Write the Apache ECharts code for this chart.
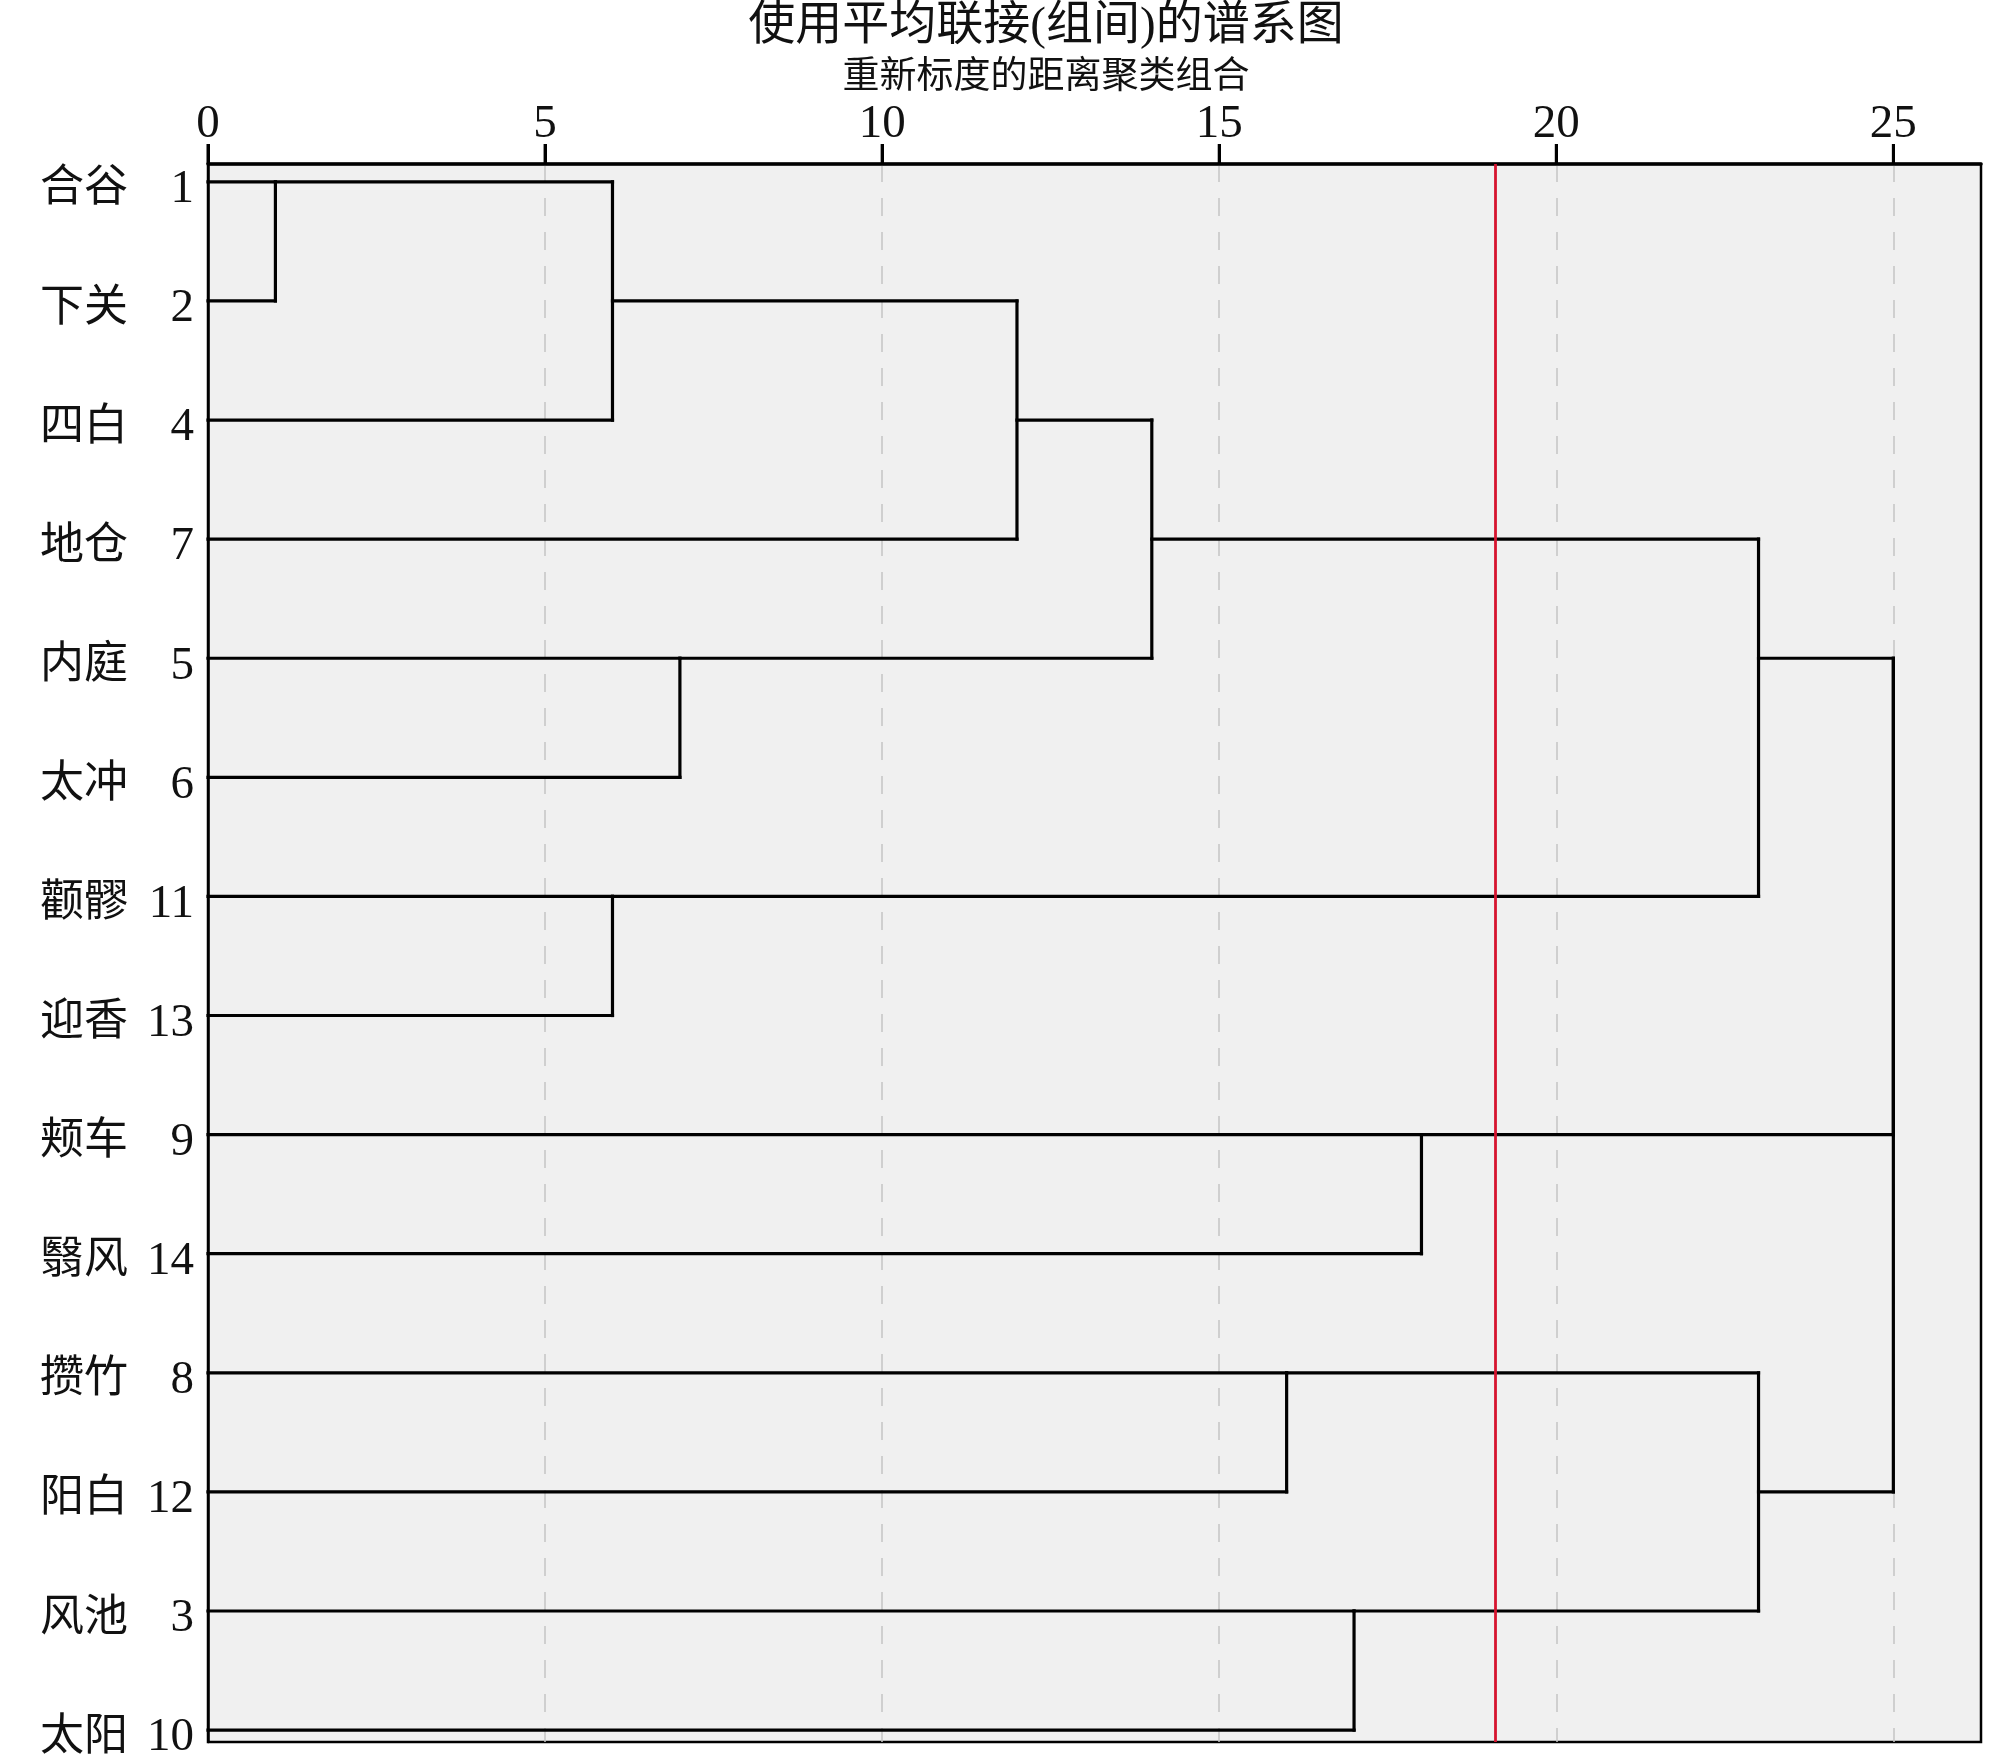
<!DOCTYPE html>
<html>
<head>
<meta charset="utf-8">
<script src="https://cdn.jsdelivr.net/npm/echarts@6/dist/echarts.min.js"></script>
<style>
  html, body { margin: 0; padding: 0; background: #fff; }
  #chart { width: 2000px; height: 1762px; }
</style>
</head>
<body>
<div id="chart"></div>
<script>
// 行标签（自上而下）
var names = ['合谷', '下关', '四白', '地仓', '内庭', '太冲', '颧髎', '迎香', '颊车', '翳风', '攒竹', '阳白', '风池', '太阳']
var caseNo = [1, 2, 4, 7, 5, 6, 11, 13, 9, 14, 8, 12, 3, 10]
var xTicks = [0, 5, 10, 15, 20, 25]
var cutLine = 19.1

// 合并步骤: [子节点A, 子节点B, 距离, 输出行]
// 子节点: 'L0'..'L13' 为叶子, 'M0'.. 为之前的合并
var merges = [
  ['L0', 'L1', 1, 0],
  ['M0', 'L2', 6, 1],
  ['M1', 'L3', 12, 2],
  ['L4', 'L5', 7, 4],
  ['M2', 'M3', 14, 3],
  ['L6', 'L7', 6, 6],
  ['M4', 'M5', 23, 4],
  ['L8', 'L9', 18, 8],
  ['L10', 'L11', 16, 10],
  ['L12', 'L13', 17, 12],
  ['M8', 'M9', 23, 11],
  ['M6', 'M7', 25, 4],
  ['M11', 'M10', 25, 4]
]

var Y_MIN = -0.15
var Y_MAX = 13.1

function nodeInfo(key) {
  var idx = Number(key.slice(1))
  if (key[0] === 'L') return { h: 0, y: idx }
  return { h: merges[idx][2], y: merges[idx][3] }
}

// 每个合并展开成三段线: 两条水平 + 一条竖线
var segs = []
merges.forEach(function (m) {
  var a = nodeInfo(m[0]), b = nodeInfo(m[1])
  segs.push([a.h, a.y, m[2], a.y])
  segs.push([b.h, b.y, m[2], b.y])
  segs.push([m[2], a.y, m[2], b.y])
})

var serif = '"Liberation Serif", "Times New Roman", "Noto Sans CJK SC", serif'

var titleEls = [
  {
    id: 'title', type: 'text', x: 1046, y: 27,
    style: { text: '使用平均联接(组间)的谱系图', font: '47px ' + serif, fill: '#111', align: 'center', verticalAlign: 'middle' }
  },
  {
    id: 'subtitle', type: 'text', x: 1046, y: 78,
    style: { text: '重新标度的距离聚类组合', font: '37px ' + serif, fill: '#111', align: 'center', verticalAlign: 'middle' }
  }
]

function buildOption(extraGraphic) {
  return {
    backgroundColor: '#fff',
    animation: false,
    graphic: titleEls.concat(extraGraphic),
    grid: {
      left: 208, right: 19, top: 164, bottom: 20,
      show: true,
      backgroundColor: '#f0f0f0',
      borderColor: '#000',
      borderWidth: 2.5
    },
    xAxis: {
      type: 'value',
      position: 'top',
      min: 0,
      max: 26.3,
      interval: 5,
      axisLine: { show: true, onZero: false, lineStyle: { color: '#000', width: 3.5 } },
      axisTick: { show: true, length: 20, lineStyle: { color: '#000', width: 3 } },
      axisLabel: {
        margin: 16,
        color: '#111',
        fontSize: 47,
        fontFamily: serif,
        showMaxLabel: false
      },
      splitLine: {
        show: true, showMinLine: false, showMaxLine: false,
        lineStyle: { color: '#c4c4c4', type: [18, 16], width: 1.5 }
      }
    },
    yAxis: {
      type: 'value',
      inverse: true,
      min: Y_MIN,
      max: Y_MAX,
      axisLine: { show: true, onZero: false, lineStyle: { color: '#000', width: 2.5 } },
      axisTick: { show: false },
      splitLine: { show: false },
      axisLabel: {
        customValues: names.map(function (n, i) { return i }),
        margin: 14,
        formatter: function (v) {
          var i = Math.round(v)
          return '{n|' + names[i] + '}{c|' + caseNo[i] + '}'
        },
        rich: {
          n: { width: 108, align: 'left', fontSize: 44, fontFamily: serif, color: '#111', padding: [16, 0, 0, 0] },
          c: { width: 46, align: 'right', fontSize: 47, fontFamily: serif, color: '#111', padding: [16, 0, 0, 0] }
        }
      }
    },
    series: [
      {
        type: 'custom',
        data: segs,
        renderItem: function (params, api) {
          var p1 = api.coord([api.value(0), api.value(1)])
          var p2 = api.coord([api.value(2), api.value(3)])
          return {
            type: 'line',
            shape: { x1: p1[0], y1: p1[1], x2: p2[0], y2: p2[1] },
            style: { stroke: '#000', lineWidth: 3.2, lineCap: 'square' }
          }
        },
        encode: { x: [0, 2], y: [1, 3] },
        z: 3,
        markLine: {
          silent: true,
          symbol: 'none',
          label: { show: false },
          lineStyle: { color: '#d6142f', width: 2.8, type: 'solid' },
          data: [{ xAxis: cutLine }]
        }
      }
    ]
  }
}

var myChart = echarts.init(document.getElementById('chart'))
myChart.setOption(buildOption([]))

// 顶部刻度线（向外），位置由坐标轴换算后重新整体设置
var tickTop = myChart.convertToPixel({ yAxisIndex: 0 }, Y_MIN)
var tickEls = xTicks.map(function (v, i) {
  var px = myChart.convertToPixel({ xAxisIndex: 0 }, v)
  return {
    id: 'tick' + i,
    type: 'rect',
    z: 100,
    shape: { x: px - 1.5, y: tickTop - 20, width: 3, height: 20 },
    style: { fill: '#000' }
  }
})
myChart.setOption(buildOption(tickEls), true)
</script>
</body>
</html>
